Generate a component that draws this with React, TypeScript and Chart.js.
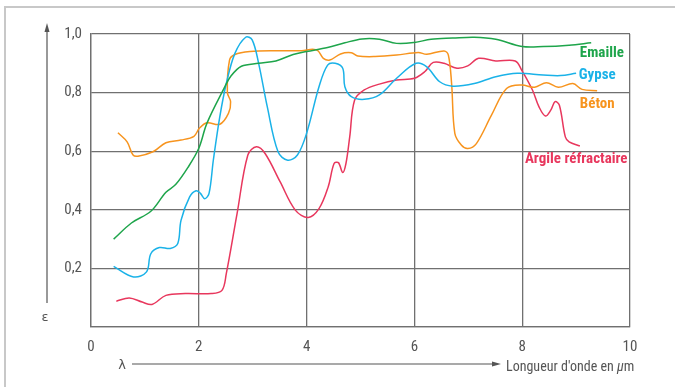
import React, { useEffect, useRef } from 'react';
import { Chart, registerables } from 'chart.js';

Chart.register(...registerables);

// ---- Data ----
const xTickValues = [0, 2, 4, 6, 8, 10];
const yTickValues = [0.2, 0.4, 0.6, 0.8, 1.0];

const seriesNames = ['Emaille', 'Gypse', 'Béton', 'Argile réfractaire'];

const emailleX = [0.42, 0.75, 1.11, 1.39, 1.57, 1.8, 2.0, 2.15, 2.47, 2.59, 2.79, 3.11, 3.43, 3.75, 4.0, 4.39, 4.71, 5.03, 5.35, 5.67, 6.0, 6.31, 6.71, 7.11, 7.51, 8.0, 8.39, 8.87, 9.28];
const emailleY = [0.30, 0.355, 0.395, 0.46, 0.486, 0.545, 0.61, 0.695, 0.815, 0.855, 0.89, 0.90, 0.908, 0.93, 0.94, 0.954, 0.97, 0.983, 0.982, 0.968, 0.971, 0.982, 0.986, 0.989, 0.982, 0.957, 0.957, 0.962, 0.97];

const gypseX = [0.42, 0.79, 1.03, 1.11, 1.27, 1.47, 1.61, 1.67, 1.83, 1.95, 2.03, 2.11, 2.19, 2.27, 2.39, 2.51, 2.67, 2.87, 2.99, 3.11, 3.27, 3.47, 3.65, 3.83, 4.0, 4.23, 4.39, 4.53, 4.67, 4.71, 4.83, 5.07, 5.35, 5.67, 6.03, 6.23, 6.47, 6.71, 7.11, 7.51, 7.91, 8.39, 8.71, 9.0];
const gypseY = [0.207, 0.171, 0.188, 0.25, 0.271, 0.268, 0.285, 0.364, 0.444, 0.465, 0.456, 0.438, 0.456, 0.57, 0.718, 0.831, 0.934, 0.989, 0.98, 0.90, 0.752, 0.598, 0.569, 0.587, 0.661, 0.82, 0.894, 0.90, 0.883, 0.82, 0.786, 0.777, 0.792, 0.849, 0.90, 0.888, 0.837, 0.822, 0.831, 0.854, 0.866, 0.86, 0.858, 0.866];

const betonX = [0.50, 0.67, 0.78, 0.87, 1.15, 1.39, 1.67, 1.91, 2.01, 2.15, 2.39, 2.55, 2.59, 2.53, 2.57, 2.67, 2.95, 3.43, 3.91, 4.11, 4.21, 4.31, 4.43, 4.63, 4.83, 4.95, 5.27, 5.67, 6.07, 6.23, 6.55, 6.63, 6.69, 6.75, 6.87, 6.99, 7.15, 7.43, 7.71, 7.99, 8.23, 8.45, 8.67, 8.94, 9.11, 9.39];
const betonY = [0.663, 0.632, 0.587, 0.583, 0.598, 0.629, 0.638, 0.651, 0.678, 0.697, 0.692, 0.729, 0.769, 0.80, 0.911, 0.93, 0.94, 0.943, 0.943, 0.948, 0.943, 0.917, 0.911, 0.932, 0.936, 0.925, 0.923, 0.928, 0.937, 0.931, 0.942, 0.928, 0.831, 0.661, 0.621, 0.609, 0.626, 0.723, 0.814, 0.826, 0.818, 0.834, 0.818, 0.831, 0.811, 0.806];

const argileX = [0.47, 0.71, 0.95, 1.13, 1.39, 1.75, 2.23, 2.43, 2.51, 2.71, 2.91, 3.07, 3.23, 3.51, 3.79, 4.03, 4.23, 4.40, 4.51, 4.59, 4.67, 4.73, 4.80, 4.89, 5.07, 5.35, 5.67, 6.0, 6.19, 6.35, 6.55, 6.79, 6.99, 7.19, 7.51, 7.87, 7.99, 8.19, 8.31, 8.43, 8.53, 8.61, 8.69, 8.80, 8.87, 9.07];
const argileY = [0.088, 0.099, 0.085, 0.077, 0.108, 0.114, 0.114, 0.125, 0.182, 0.387, 0.587, 0.615, 0.592, 0.495, 0.399, 0.374, 0.404, 0.478, 0.558, 0.561, 0.527, 0.558, 0.649, 0.774, 0.809, 0.829, 0.843, 0.849, 0.871, 0.903, 0.90, 0.883, 0.891, 0.917, 0.908, 0.908, 0.877, 0.809, 0.752, 0.72, 0.74, 0.769, 0.757, 0.649, 0.632, 0.618];

// label anchor (data coords: left x, middle y)
const labelX = [9.07, 9.05, 9.07, 8.05];
const labelY = [0.935, 0.86, 0.761, 0.571];

const colors = ['#1ea54b', '#1ab2e8', '#f7941e', '#e8375d'];

const zip = (xs: number[], ys: number[]) => xs.map((x, i) => ({ x, y: ys[i] }));

const NARROW = "'Liberation Sans Narrow', 'Roboto Condensed', 'DejaVu Sans Condensed', 'Liberation Sans', sans-serif";

const decorPlugin = {
  id: 'decor',
  beforeDraw(chart: any) {
    const ctx = chart.ctx;
    ctx.save();
    ctx.fillStyle = '#ffffff';
    ctx.fillRect(0, 0, chart.width, chart.height);
    ctx.strokeStyle = '#c8c8c8';
    ctx.lineWidth = 2;
    ctx.beginPath();
    ctx.moveTo(5, 400);
    ctx.lineTo(5, 7);
    ctx.lineTo(700, 7);
    ctx.stroke();
    ctx.restore();
  },
  afterDraw(chart: any) {
    const ctx = chart.ctx;
    const xs = chart.scales.x;
    const ys = chart.scales.y;
    ctx.save();
    // y arrow
    ctx.strokeStyle = '#555';
    ctx.fillStyle = '#555';
    ctx.lineWidth = 1.2;
    ctx.beginPath();
    ctx.moveTo(47, 303);
    ctx.lineTo(47, 30);
    ctx.stroke();
    ctx.beginPath();
    ctx.moveTo(47, 23);
    ctx.lineTo(44.5, 32);
    ctx.lineTo(49.5, 32);
    ctx.closePath();
    ctx.fill();
    // x arrow
    ctx.beginPath();
    ctx.moveTo(132, 364);
    ctx.lineTo(494, 364);
    ctx.stroke();
    ctx.beginPath();
    ctx.moveTo(501, 364);
    ctx.lineTo(492, 361.5);
    ctx.lineTo(492, 366.5);
    ctx.closePath();
    ctx.fill();

    ctx.fillStyle = '#555';
    ctx.textBaseline = 'middle';
    ctx.textAlign = 'center';
    ctx.font = "13px 'DejaVu Sans', sans-serif";
    ctx.fillText('ε', 45, 318);
    ctx.fillText('λ', 122, 366);

    // axis title
    ctx.textAlign = 'left';
    ctx.font = `14px ${NARROW}`;
    let tx = 506;
    const p1 = "Longueur d'onde en ";
    ctx.fillText(p1, tx, 367);
    tx += ctx.measureText(p1).width;
    ctx.font = `italic 14px ${NARROW}`;
    ctx.fillText('μ', tx, 367);
    tx += ctx.measureText('μ').width;
    ctx.font = `14px ${NARROW}`;
    ctx.fillText('m', tx, 367);

    // series labels
    ctx.font = `bold 15px ${NARROW}`;
    seriesNames.forEach((name, i) => {
      ctx.fillStyle = colors[i];
      ctx.fillText(name, xs.getPixelForValue(labelX[i]), ys.getPixelForValue(labelY[i]));
    });
    ctx.restore();
  },
};

export default function App() {
  const ref = useRef<HTMLCanvasElement>(null);
  useEffect(() => {
    document.body.style.margin = '0';
    const series = [zip(emailleX, emailleY), zip(gypseX, gypseY), zip(betonX, betonY), zip(argileX, argileY)];
    const chart = new Chart(ref.current as HTMLCanvasElement, {
      type: 'line',
      data: {
        datasets: series.map((d, i) => ({
          label: seriesNames[i],
          data: d,
          borderColor: colors[i],
          backgroundColor: colors[i],
          borderWidth: 1.5,
          pointRadius: 0,
          tension: 0.35,
          fill: false,
        })),
      },
      options: {
        responsive: false,
        animation: false,
        parsing: true,
        layout: { padding: { left: 0, right: 45, top: 34, bottom: 0 } },
        plugins: { legend: { display: false }, tooltip: { enabled: false } },
        scales: {
          x: {
            type: 'linear',
            min: 0,
            max: 10,
            afterFit: (s: any) => { s.height = 60; },
            afterBuildTicks: (s: any) => { s.ticks = xTickValues.map((v) => ({ value: v })); },
            ticks: {
              padding: 11,
              color: '#555',
              font: { family: NARROW, size: 15 },
              maxRotation: 0,
              callback: (v: any) => String(v),
            },
            grid: { color: '#707070', lineWidth: 1.3, drawTicks: false },
            border: { color: '#707070', width: 1.3 },
          },
          y: {
            type: 'linear',
            min: 0,
            max: 1,
            afterFit: (s: any) => { s.width = 91; },
            afterBuildTicks: (s: any) => { s.ticks = [0, ...yTickValues].map((v) => ({ value: v })); },
            ticks: {
              padding: 9,
              color: '#555',
              font: { family: NARROW, size: 15 },
              callback: (v: any) => (v === 0 ? '' : Number(v).toFixed(1).replace('.', ',')),
            },
            grid: { color: '#707070', lineWidth: 1.3, drawTicks: false },
            border: { color: '#707070', width: 1.3 },
          },
        },
      },
      plugins: [decorPlugin],
    } as any);
    return () => chart.destroy();
  }, []);
  return (
    <canvas
      ref={ref}
      width={675}
      height={387}
      style={{ display: 'block', position: 'absolute', left: 0, top: 0 }}
    />
  );
}
